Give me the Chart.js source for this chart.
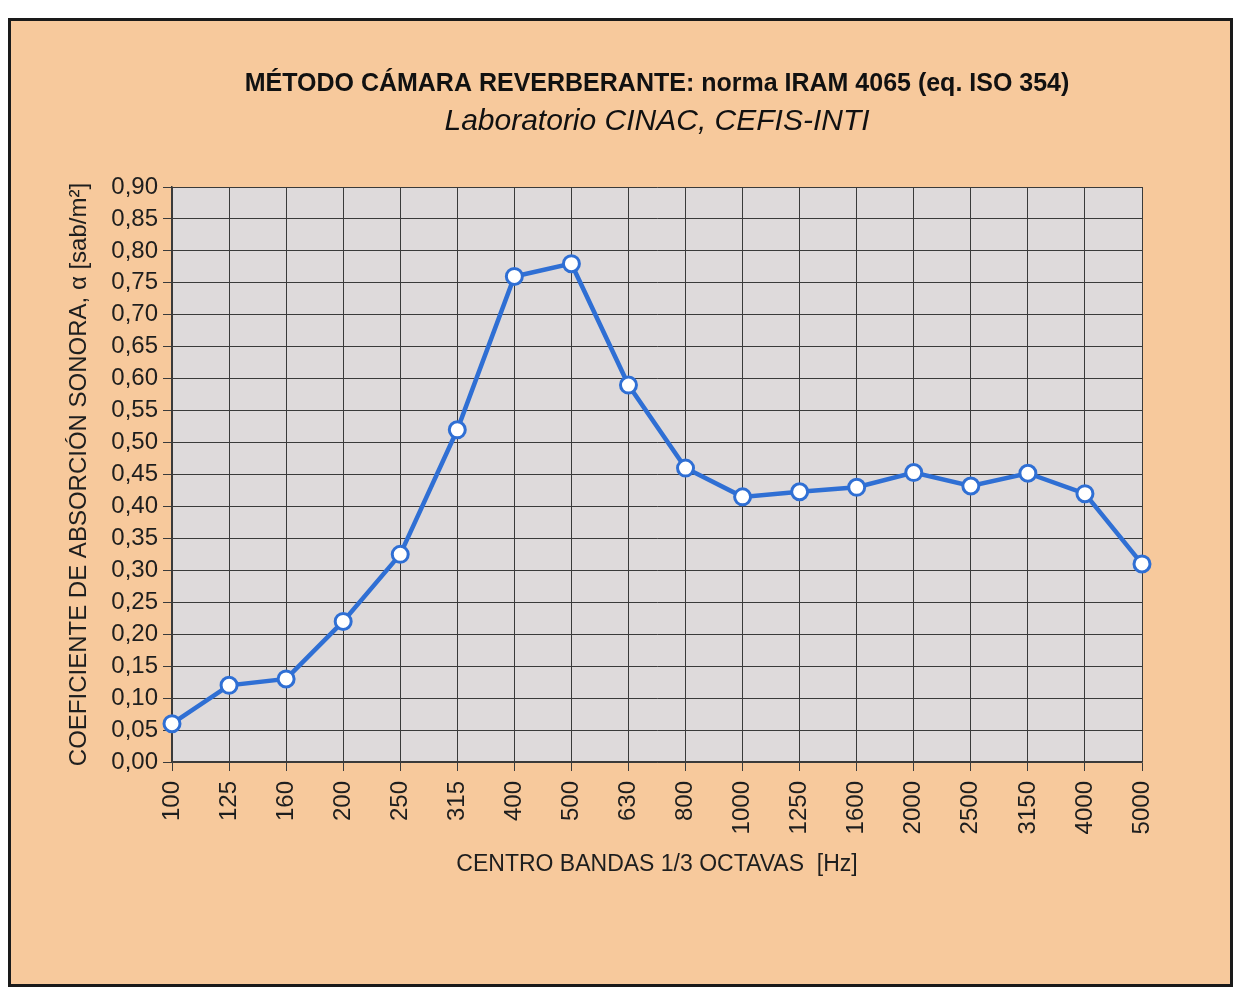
<!DOCTYPE html>
<html>
<head>
<meta charset="utf-8">
<script src="https://cdn.jsdelivr.net/npm/chart.js@4.4.0/dist/chart.umd.min.js"></script>
<style>
    body { margin: 0; background: #ffffff; }
    #frame {
        position: absolute; left: 8px; top: 18px; width: 1219px; height: 963px;
        border: 3px solid #1a1a1a; background: #f7c99c;
    }
    #chart-container { position: absolute; left: 0; top: 0; width: 1239px; height: 992px; }
</style>
</head>
<body>
<div id="frame"></div>
<div id="chart-container"><canvas id="lineChart"></canvas></div>
<script>
// Data
var bandLabels = ["100", "125", "160", "200", "250", "315", "400", "500", "630", "800",
    "1000", "1250", "1600", "2000", "2500", "3150", "4000", "5000"];
var alphaValues = [0.06, 0.12, 0.13, 0.22, 0.325, 0.52, 0.76, 0.78, 0.59, 0.46,
    0.415, 0.423, 0.43, 0.453, 0.432, 0.452, 0.42, 0.31];
var yTicks = [0, 0.05, 0.10, 0.15, 0.20, 0.25, 0.30, 0.35, 0.40, 0.45,
    0.50, 0.55, 0.60, 0.65, 0.70, 0.75, 0.80, 0.85, 0.90];

// Paint the grey plot area behind the grid
var plotBackground = {
    id: "plotBackground",
    beforeDraw: function (chart) {
        var ctx = chart.ctx, a = chart.chartArea;
        ctx.save();
        ctx.fillStyle = "#dedadb";
        ctx.fillRect(a.left, a.top, a.right - a.left, a.bottom - a.top);
        ctx.restore();
    }
};

var ctx = document.getElementById("lineChart").getContext("2d");
var sans = "'Liberation Sans', Arial, sans-serif";

new Chart(ctx, {
    type: "line",
    data: {
        labels: bandLabels,
        datasets: [
            {
                label: "alpha",
                data: alphaValues,
                borderColor: "#2f6fd4",
                borderWidth: 4.5,
                backgroundColor: "#ffffff",
                pointBackgroundColor: "#ffffff",
                pointBorderColor: "#2f6fd4",
                pointBorderWidth: 3,
                pointRadius: 8,
                tension: 0
            }
        ]
    },
    options: {
        responsive: true,
        maintainAspectRatio: false,
        animation: false,
        layout: { padding: { left: 61, right: 97, top: 69, bottom: 110 } },
        plugins: {
            legend: { display: false },
            tooltip: { enabled: false },
            title: {
                display: true,
                fullSize: false,
                text: "MÉTODO CÁMARA REVERBERANTE: norma IRAM 4065 (eq. ISO 354)",
                color: "#111111",
                font: { family: "'Liberation Sans Narrow', 'Arial Narrow', " + sans, size: 25, weight: "bold" },
                padding: { top: 0, bottom: 5 }
            },
            subtitle: {
                display: true,
                fullSize: false,
                text: "Laboratorio CINAC, CEFIS-INTI",
                color: "#111111",
                font: { family: "'Liberation Sans Narrow', 'Arial Narrow', " + sans, size: 30, style: "italic" },
                padding: { top: 0, bottom: 47 }
            }
        },
        scales: {
            x: {
                offset: false,
                grid: { color: "#3a3a3a", lineWidth: 1, tickLength: 9, tickColor: "#3a3a3a" },
                border: { color: "#3a3a3a", width: 1.5 },
                ticks: {
                    color: "#1e1e1e",
                    font: { family: sans, size: 24 },
                    minRotation: 90,
                    maxRotation: 90,
                    padding: 10,
                    autoSkip: false
                },
                title: {
                    display: true,
                    text: "CENTRO BANDAS 1/3 OCTAVAS  [Hz]",
                    color: "#1e1e1e",
                    font: { family: sans, size: 23 },
                    padding: { top: 6 }
                }
            },
            y: {
                min: 0,
                max: 0.9,
                afterBuildTicks: function (scale) {
                    scale.ticks = yTicks.map(function (v) { return { value: v }; });
                },
                afterFit: function (scale) { scale.width = 111; },
                grid: { color: "#3a3a3a", lineWidth: 1, tickLength: 9, tickColor: "#3a3a3a" },
                border: { color: "#3a3a3a", width: 1.5 },
                ticks: {
                    color: "#1e1e1e",
                    font: { family: sans, size: 24 },
                    padding: 5,
                    autoSkip: false,
                    callback: function (value) { return value.toFixed(2).replace(".", ","); }
                },
                title: {
                    display: true,
                    text: "COEFICIENTE DE ABSORCIÓN SONORA, α [sab/m²]",
                    color: "#1e1e1e",
                    font: { family: sans, size: 24 },
                    padding: { bottom: 8 }
                }
            }
        }
    },
    plugins: [plotBackground]
});
</script>
</body>
</html>
